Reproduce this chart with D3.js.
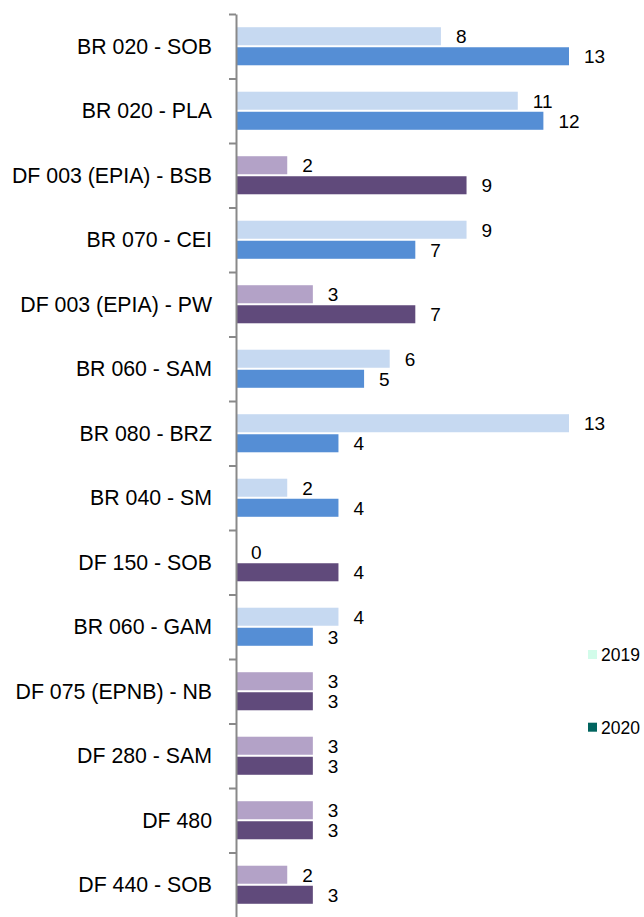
<!DOCTYPE html>
<html>
<head>
<meta charset="utf-8">
<script src="https://d3js.org/d3.v7.min.js"></script>
<style>
  body { margin: 0; background: #fff; }
  text { font-family: "Liberation Sans", Arial, sans-serif; fill: #000; }
</style>
</head>
<body>
<div id="chart"></div>
<script>
// data
const categories = [
  "BR 020 - SOB", "BR 020 - PLA", "DF 003 (EPIA) - BSB", "BR 070 - CEI",
  "DF 003 (EPIA) - PW", "BR 060 - SAM", "BR 080 - BRZ", "BR 040 - SM",
  "DF 150 - SOB", "BR 060 - GAM", "DF 075 (EPNB) - NB", "DF 280 - SAM",
  "DF 480", "DF 440 - SOB"
];
const values2019 = [8, 11, 2, 9, 3, 6, 13, 2, 0, 4, 3, 3, 3, 2];
const values2020 = [13, 12, 9, 7, 7, 5, 4, 4, 4, 3, 3, 3, 3, 3];
const seriesNames = ["2019", "2020"];

// colours per road group (BR = federal, DF = district)
const groupColours = {
  BR: { "2019": "#c6d9f1", "2020": "#558ed5" },
  DF: { "2019": "#b3a2c7", "2020": "#604a7b" }
};
const legendColours = { "2019": "#d2fcea", "2020": "#01645f" };

const W = 644, H = 917;
const dims = { top: 14, bottom: 917, left: 236, right: 569 };

const svg = d3.select("#chart").append("svg")
  .attr("width", W)
  .attr("height", H);

const y = d3.scaleBand()
  .domain(categories)
  .range([dims.top, dims.bottom]);

const ySub = d3.scaleBand()
  .domain(seriesNames)
  .range([0, y.bandwidth()])
  .paddingInner(0.1)
  .paddingOuter(0.66);

const x = d3.scaleLinear()
  .domain([0, 13])
  .range([dims.left, dims.right]);

const rows = categories.map((c, i) => ({
  cat: c,
  group: c.slice(0, 2),
  vals: [
    { s: "2019", v: values2019[i] },
    { s: "2020", v: values2020[i] }
  ]
}));

const g = svg.selectAll(".row")
  .data(rows)
  .enter().append("g")
  .attr("class", "row")
  .attr("transform", d => `translate(0,${y(d.cat)})`);

g.selectAll("rect")
  .data(d => d.vals.map(v => Object.assign({ group: d.group }, v)))
  .enter().append("rect")
  .attr("x", x(0))
  .attr("y", d => ySub(d.s))
  .attr("width", d => x(d.v) - x(0))
  .attr("height", ySub.bandwidth())
  .attr("fill", d => groupColours[d.group][d.s]);

g.selectAll(".val")
  .data(d => d.vals)
  .enter().append("text")
  .attr("class", "val")
  .attr("x", d => x(d.v) + 15)
  .attr("y", d => ySub(d.s) + ySub.bandwidth() / 2)
  .attr("dy", "0.36em")
  .attr("font-size", 19)
  .text(d => d.v);

// category labels
g.append("text")
  .attr("x", 212)
  .attr("y", y.bandwidth() / 2)
  .attr("dy", "0.36em")
  .attr("text-anchor", "end")
  .attr("font-size", 21.3)
  .text(d => d.cat);

// vertical axis with ticks on the category boundaries
const yIdx = d3.scaleLinear()
  .domain([0, categories.length])
  .range([dims.top, dims.bottom]);

const axis = svg.append("g")
  .attr("transform", `translate(${dims.left},0)`)
  .call(d3.axisLeft(yIdx)
    .tickValues(d3.range(categories.length))
    .tickFormat("")
    .tickSizeInner(7)
    .tickSizeOuter(0));
axis.select(".domain").attr("stroke", "#898989").attr("stroke-width", 2);
axis.selectAll(".tick line").attr("stroke", "#898989").attr("stroke-width", 2);

// legend
const legend = svg.selectAll(".legend")
  .data(seriesNames)
  .enter().append("g")
  .attr("class", "legend")
  .attr("transform", (d, i) => `translate(588,${650 + i * 72.7})`);

legend.append("rect")
  .attr("width", 9)
  .attr("height", 9)
  .attr("fill", d => legendColours[d]);

legend.append("text")
  .attr("x", 13)
  .attr("y", 4.5)
  .attr("dy", "0.36em")
  .attr("font-size", 17.5)
  .text(d => d);
</script>
</body>
</html>
